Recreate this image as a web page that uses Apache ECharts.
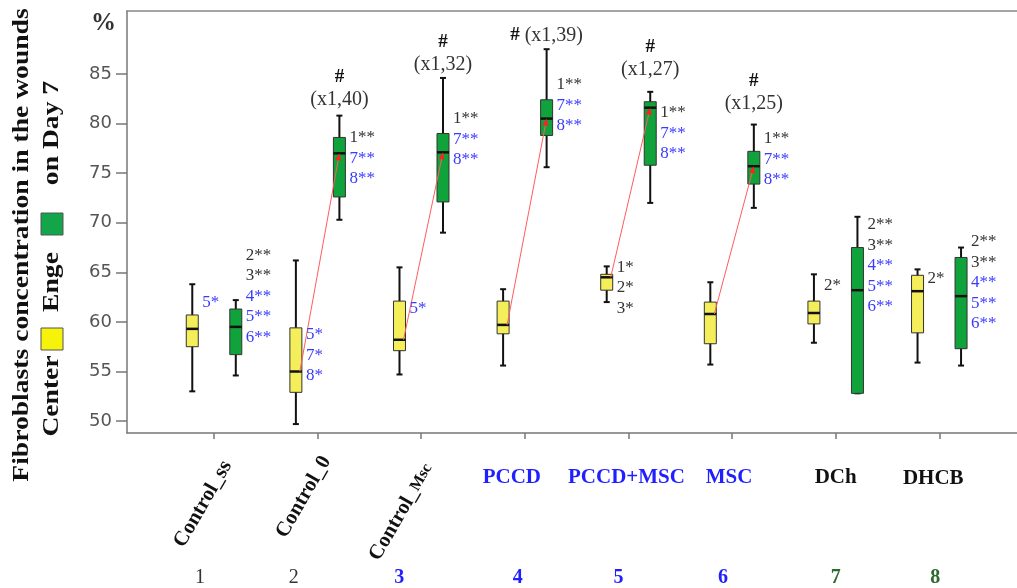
<!DOCTYPE html>
<html>
<head>
<meta charset="utf-8">
<script src="https://cdn.jsdelivr.net/npm/echarts@6/dist/echarts.min.js"></script>
<style>
  html, body { margin: 0; padding: 0; background: #fff; }
  #chart { width: 1017px; height: 588px; }
</style>
</head>
<body>
<div id="chart"></div>
<script>
// ---- data ----
const groupNumbers = ['1', '2', '3', '4', '5', '6', '7', '8'];
const groupNames = ['Control_ss', 'Control_0', 'Control_{s|Msc}', 'PCCD', 'PCCD+MSC', 'MSC', 'DCh', 'DHCB'];
const yTicks = [50, 55, 60, 65, 70, 75, 80, 85];

// box statistics per group: [min, Q1, median, Q3, max]
const centerStats = [
  [53.0, 57.5, 59.3, 60.7, 63.8],
  [49.7, 52.9, 55.0, 59.4, 66.2],
  [54.7, 57.1, 58.2, 62.1, 65.5],
  [55.6, 58.8, 59.7, 62.1, 63.3],
  [62.0, 63.2, 64.5, 64.8, 65.6],
  [55.7, 57.8, 60.8, 62.0, 64.0],
  [57.9, 59.8, 60.9, 62.1, 64.8],
  [55.9, 58.9, 63.1, 64.7, 65.3]
];
const edgeStats = [
  [54.6, 56.7, 59.5, 61.3, 62.2],
  [70.3, 72.6, 77.0, 78.6, 80.8],
  [69.0, 72.1, 77.1, 79.0, 84.6],
  [75.6, 78.8, 80.5, 82.4, 87.5],
  [72.0, 75.8, 81.6, 82.2, 83.2],
  [71.5, 73.9, 75.7, 77.2, 79.9],
  [52.8, 52.8, 63.2, 67.5, 70.6],
  [55.6, 57.3, 62.6, 66.5, 67.5]
];

// groups whose centre and edge medians are joined, with the edge/centre ratio
const linkedGroups = [2, 3, 4, 5, 6];
const ratioLabels = ['(x1,40)', '(x1,32)', '(x1,39)', '(x1,27)', '(x1,25)'];
const ratioLabelY = [82.4, 85.9, 88.9, 85.4, 82.0];

// significance marks beside each box (first line anchored at the given value)
const centerMarks = [['5*'], ['5*', '7*', '8*'], ['5*'], [], ['1*', '2*', '3*'], [], ['2*'], ['2*']];
const centerMarkY = [62.0, 58.7, 61.4, null, 65.5, null, 63.7, 64.4];
const edgeMarks = [
  ['2**', '3**', '4**', '5**', '6**'],
  ['1**', '7**', '8**'],
  ['1**', '7**', '8**'],
  ['1**', '7**', '8**'],
  ['1**', '7**', '8**'],
  ['1**', '7**', '8**'],
  ['2**', '3**', '4**', '5**', '6**'],
  ['2**', '3**', '4**', '5**', '6**']
];
const edgeMarkY = [66.7, 78.55, 80.5, 83.9, 81.1, 78.45, 69.8, 68.1];

// ---- layout & style ----
const Y_MIN = 48.8, Y_MAX = 91.35;
const X_MIN = 0.16, X_MAX = 8.75;
const PAIR_OFFSET = 0.21;
const BOX_W = 12;
const SERIF = '"Liberation Serif", "Times New Roman", serif';
const YELLOW = '#f4ee5a';
const GREEN = '#10a33c';
const DARK = '#333';
const BLUE = '#3b3bff';
const LINE_STEP = 20.5;

// per-category label placement relative to the tick on the bottom axis: [dx, dy, rotationDeg]
const nameLayout = [[-11, 71, 60], [-14, 64, 60], [-20, 79, 60], [-13, 45, 0], [-2, 45, 0], [-3, 45, 0], [0, 45, 0], [-6, 46, 0]];
const numberShift = [-14, -24, -22, -7, -10, -9, 0, -4];
const nameColors = ['#111', '#111', '#111', '#1f1fff', '#1f1fff', '#1f1fff', '#111', '#111'];
const numberColors = ['#333', '#333', '#1f1fff', '#1f1fff', '#1f1fff', '#1f1fff', '#2f6b2f', '#2f6b2f'];
const numberWeights = ['normal', 'normal', 'bold', 'bold', 'bold', 'bold', 'bold', 'bold'];

const markColor = t => (parseInt(t, 10) <= 3 ? DARK : BLUE);

function boxRenderer(fill) {
  return function (params, api) {
    const x = api.value(0);
    const pMin = api.coord([x, api.value(1)]);
    const pQ1 = api.coord([x, api.value(2)]);
    const pMed = api.coord([x, api.value(3)]);
    const pQ3 = api.coord([x, api.value(4)]);
    const pMax = api.coord([x, api.value(5)]);
    const cx = pMin[0], hw = BOX_W / 2, cap = 3;
    const seg = (x1, y1, x2, y2, w) => ({
      type: 'line', shape: { x1, y1, x2, y2 }, style: { stroke: '#111', lineWidth: w }
    });
    return {
      type: 'group',
      children: [
        seg(cx, pMax[1], cx, pMin[1], 2),
        seg(cx - cap, pMax[1], cx + cap, pMax[1], 2),
        seg(cx - cap, pMin[1], cx + cap, pMin[1], 2),
        {
          type: 'rect',
          shape: { x: cx - hw, y: pQ3[1], width: BOX_W, height: pQ1[1] - pQ3[1] },
          style: { fill, stroke: '#333', lineWidth: 1 }
        },
        seg(cx - hw, pMed[1], cx + hw, pMed[1], 2.5)
      ]
    };
  };
}

const centerData = centerStats.map((s, i) => [i + 1 - PAIR_OFFSET].concat(s));
const edgeData = edgeStats.map((s, i) => [i + 1 + PAIR_OFFSET].concat(s));
const linkData = linkedGroups.map(g => [g, centerStats[g - 1][2], edgeStats[g - 1][2]]);

const markItems = [];
centerMarks.forEach((lines, i) => {
  if (lines.length) markItems.push({ x: i + 1 - PAIR_OFFSET, y: centerMarkY[i], lines });
});
edgeMarks.forEach((lines, i) => {
  if (lines.length) markItems.push({ x: i + 1 + PAIR_OFFSET, y: edgeMarkY[i], lines });
});

const headerItems = linkedGroups.map((g, k) => ({
  x: g + PAIR_OFFSET,
  y: ratioLabelY[k],
  inline: g === 4,
  text: ratioLabels[k]
}));

const titleText = (text, x, y) => ({
  type: 'text', x, y, rotation: Math.PI / 2, scaleX: 1.2,
  style: {
    text, fontFamily: SERIF, fontWeight: 'bold', fontSize: 23, fill: '#111',
    align: 'center', verticalAlign: 'middle'
  }
});

const chart = echarts.init(document.getElementById('chart'), null, { renderer: 'canvas' });

chart.setOption({
  animation: false,
  backgroundColor: '#fff',
  grid: { left: 127, right: 0, top: 11, bottom: 155 },
  xAxis: [
    {
      type: 'value', min: X_MIN, max: X_MAX, position: 'bottom',
      axisLine: { show: true, onZero: false, lineStyle: { color: '#777', width: 1.5 } },
      axisTick: { show: true, customValues: [1, 2, 3, 4, 5, 6, 7, 8], length: 6, lineStyle: { color: '#777', width: 1.5 } },
      axisLabel: { show: false },
      splitLine: { show: false }
    },
    {
      type: 'value', min: X_MIN, max: X_MAX, position: 'top',
      axisLine: { show: true, onZero: false, lineStyle: { color: '#888', width: 1.5 } },
      axisTick: { show: false }, axisLabel: { show: false }, splitLine: { show: false }
    }
  ],
  yAxis: {
    type: 'value', min: Y_MIN, max: Y_MAX,
    name: '%', nameLocation: 'end', nameGap: -13,
    nameTextStyle: {
      fontFamily: SERIF, fontWeight: 'bold', fontSize: 25, color: '#333',
      align: 'right', verticalAlign: 'middle', padding: [0, 11, 0, 0]
    },
    axisLine: { show: true, onZero: false, lineStyle: { color: '#777', width: 1.5 } },
    axisTick: { show: true, customValues: yTicks, length: 11, lineStyle: { color: '#777', width: 1.5 } },
    axisLabel: { customValues: yTicks, margin: 15, fontFamily: 'DejaVu Sans', fontSize: 18, color: '#555' },
    splitLine: { show: false }
  },
  graphic: [
    titleText('Fibroblasts concentration in the wounds', 22, 245),
    titleText('Center', 52, 396),
    {
      type: 'rect', shape: { x: 41, y: 328, width: 22, height: 22 },
      style: { fill: '#f6f20a', stroke: '#555', lineWidth: 1 }
    },
    titleText('Enge', 52, 282),
    {
      type: 'rect', shape: { x: 41, y: 213, width: 22, height: 22 },
      style: { fill: '#13a54a', stroke: '#555', lineWidth: 1 }
    },
    titleText('on Day 7', 52, 133)
  ],
  series: [
    {
      name: 'Center', type: 'custom', z: 2,
      data: centerData, encode: { x: 0, y: [1, 2, 3, 4, 5] },
      renderItem: boxRenderer(YELLOW)
    },
    {
      name: 'Enge', type: 'custom', z: 2,
      data: edgeData, encode: { x: 0, y: [1, 2, 3, 4, 5] },
      renderItem: boxRenderer(GREEN)
    },
    {
      name: 'median shift', type: 'custom', z: 3,
      data: linkData, encode: { x: 0, y: [1, 2] },
      renderItem: function (params, api) {
        const g = api.value(0);
        const a = api.coord([g - PAIR_OFFSET, api.value(1)]);
        const b = api.coord([g + PAIR_OFFSET, api.value(2)]);
        const x1 = a[0] + 4, y1 = a[1], x2 = b[0], y2 = b[1];
        const len = Math.hypot(x2 - x1, y2 - y1);
        const ux = (x2 - x1) / len, uy = (y2 - y1) / len;
        const head = 7, half = 3;
        const bx = x2 - ux * head, by = y2 - uy * head;
        return {
          type: 'group',
          children: [
            { type: 'line', shape: { x1, y1, x2: bx, y2: by }, style: { stroke: '#ff5c5c', lineWidth: 1 } },
            {
              type: 'polygon',
              shape: { points: [[x2, y2], [bx - uy * half, by + ux * half], [bx + uy * half, by - ux * half]] },
              style: { fill: '#ff2020' }
            }
          ]
        };
      }
    },
    {
      name: 'marks', type: 'custom', z: 4, silent: true,
      data: markItems.map(m => [m.x, m.y]), encode: { x: 0, y: 1 },
      renderItem: function (params, api) {
        const item = markItems[params.dataIndex];
        const p = api.coord([api.value(0), api.value(1)]);
        return {
          type: 'group',
          children: item.lines.map((t, j) => ({
            type: 'text', x: p[0] + BOX_W / 2 + 4, y: p[1] + j * LINE_STEP,
            style: {
              text: t, fill: markColor(t), fontFamily: SERIF, fontSize: 17,
              align: 'left', verticalAlign: 'middle'
            }
          }))
        };
      }
    },
    {
      name: 'ratio', type: 'custom', z: 4, silent: true,
      data: headerItems.map(h => [h.x, h.y]), encode: { x: 0, y: 1 },
      renderItem: function (params, api) {
        const h = headerItems[params.dataIndex];
        const p = api.coord([api.value(0), api.value(1)]);
        const rich = { h: { fontFamily: SERIF, fontWeight: 'bold', fontSize: 19, fill: '#111' } };
        const children = [{
          type: 'text', x: p[0], y: p[1],
          style: {
            text: h.inline ? '{h|#} ' + h.text : h.text,
            rich, fill: DARK, fontFamily: SERIF, fontSize: 20, align: 'center', verticalAlign: 'middle'
          }
        }];
        if (!h.inline) {
          children.push({
            type: 'text', x: p[0], y: p[1] - 23,
            style: { text: '#', fill: '#111', fontFamily: SERIF, fontWeight: 'bold', fontSize: 19, align: 'center', verticalAlign: 'middle' }
          });
        }
        return { type: 'group', children };
      }
    },
    {
      name: 'groups', type: 'custom', z: 4, silent: true,
      data: groupNumbers.map((n, i) => [i + 1, Y_MIN]), encode: { x: 0, y: 1 },
      renderItem: function (params, api) {
        const i = params.dataIndex;
        const p = api.coord([api.value(0), api.value(1)]);
        const lay = nameLayout[i];
        return {
          type: 'group',
          children: [
            {
              type: 'text', x: p[0] + lay[0], y: p[1] + lay[1], rotation: lay[2] * Math.PI / 180,
              style: {
                text: groupNames[i], fill: nameColors[i], fontFamily: SERIF, fontWeight: 'bold', fontSize: 21,
                align: 'center', verticalAlign: 'middle',
                rich: { s: { fontFamily: SERIF, fontWeight: 'bold', fontSize: 16, fill: nameColors[i] } }
              }
            },
            {
              type: 'text', x: p[0] + numberShift[i], y: p[1] + 145,
              style: {
                text: groupNumbers[i], fill: numberColors[i], fontFamily: SERIF, fontWeight: numberWeights[i], fontSize: 20,
                align: 'center', verticalAlign: 'middle'
              }
            }
          ]
        };
      }
    }
  ]
});
</script>
</body>
</html>
